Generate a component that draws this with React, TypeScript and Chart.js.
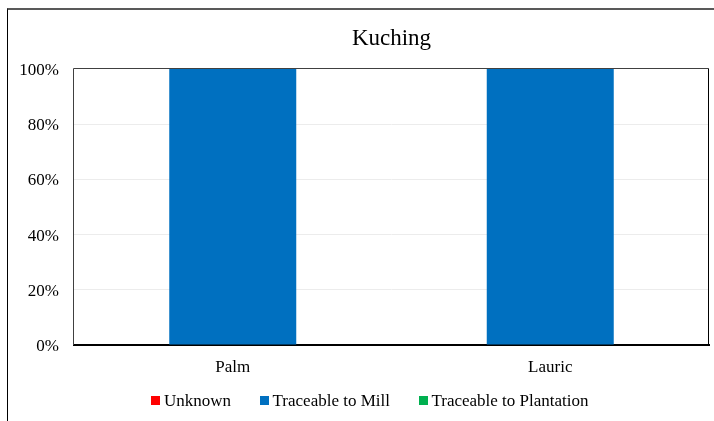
import React, { useEffect, useRef } from "react";
import { Chart, registerables } from "chart.js";

Chart.register(...registerables);

const TITLE = "Kuching";
const categories = ["Palm", "Lauric"];
const seriesNames = ["Unknown", "Traceable to Mill", "Traceable to Plantation"];
const seriesColors = ["#FF0000", "#0070C0", "#00B050"];
const unknownValues = [0, 0];
const millValues = [100, 100];
const plantationValues = [0, 0];
const yTicks = [0, 20, 40, 60, 80, 100];

const FONT = "'Liberation Serif', 'Times New Roman', serif";

const frameTitleLegend = {
  id: "frameTitleLegend",
  afterDraw(chart: any) {
    const { ctx, chartArea } = chart;
    const { left, right, top, bottom } = chartArea;
    ctx.save();
    // plot frame
    ctx.strokeStyle = "#404040";
    ctx.lineWidth = 1;
    ctx.beginPath();
    ctx.moveTo(left - 0.5, bottom);
    ctx.lineTo(left - 0.5, top - 0.5);
    ctx.lineTo(right - 0.5, top - 0.5);
    ctx.stroke();
    ctx.strokeStyle = "#000000";
    ctx.beginPath();
    ctx.moveTo(right - 0.5, top - 0.5);
    ctx.lineTo(right - 0.5, bottom);
    ctx.stroke();
    // title
    ctx.fillStyle = "#000000";
    ctx.font = `23px ${FONT}`;
    ctx.textAlign = "center";
    ctx.textBaseline = "alphabetic";
    ctx.fillText(TITLE, (left + right) / 2, 44.5);
    // legend
    const box = 9;
    const boxGap = 3.5;
    const itemGap = 29;
    ctx.font = `17px ${FONT}`;
    const items = chart.data.datasets.map((d: any) => ({
      text: d.label,
      color: d.backgroundColor,
      w: ctx.measureText(d.label).width,
    }));
    const total =
      items.reduce((s: number, it: any) => s + box + boxGap + it.w, 0) + itemGap * (items.length - 1);
    const cx = 370;
    const cy = 400.5;
    let x = cx - total / 2;
    ctx.textAlign = "left";
    ctx.textBaseline = "middle";
    for (const it of items) {
      ctx.fillStyle = it.color;
      ctx.fillRect(Math.round(x), Math.round(cy - box / 2), box, box);
      ctx.fillStyle = "#000000";
      ctx.fillText(it.text, x + box + boxGap, cy + 1);
      x += box + boxGap + it.w + itemGap;
    }
    ctx.restore();
  },
};

export default function App() {
  const ref = useRef<HTMLCanvasElement>(null);
  useEffect(() => {
    if (!ref.current) return;
    const values = [unknownValues, millValues, plantationValues];
    const chart = new Chart(ref.current, {
      type: "bar",
      data: {
        labels: categories,
        datasets: seriesNames.map((name, i) => ({
          label: name,
          data: values[i],
          backgroundColor: seriesColors[i],
          borderWidth: 0,
          categoryPercentage: 0.4,
          barPercentage: 1,
        })),
      },
      options: {
        animation: false,
        responsive: false,
        maintainAspectRatio: false,
        layout: { padding: { left: 8, right: 5, top: 69, bottom: 0 } },
        plugins: {
          title: { display: false },
          tooltip: { enabled: false },
          legend: { display: false },
        },
        scales: {
          x: {
            stacked: true,
            grid: { display: false, drawTicks: false },
            border: { display: true, color: "#000000", width: 2 },
            ticks: { color: "#000000", font: { family: FONT, size: 17 }, padding: 12 },
            afterFit: (s: any) => {
              s.height = 76;
            },
          },
          y: {
            stacked: true,
            min: 0,
            max: 100,
            afterBuildTicks: (s: any) => {
              s.ticks = yTicks.map((v) => ({ value: v }));
            },
            grid: {
              color: (c: any) => (c.tick && c.tick.value > 0 && c.tick.value < 100 ? "#ececec" : "rgba(0,0,0,0)"),
              drawTicks: false,
            },
            border: { display: false },
            ticks: {
              color: "#000000",
              font: { family: FONT, size: 17 },
              padding: 15,
              labelOffset: 1.5,
              callback: (v: any) => `${v}%`,
            },
            afterFit: (s: any) => {
              s.width = 66;
            },
          },
        },
      },
      plugins: [frameTitleLegend],
    });
    return () => chart.destroy();
  }, []);
  return (
    <div style={{ position: "fixed", left: 0, top: 0, width: 714, height: 421, overflow: "hidden", background: "#fff" }}>
      <canvas ref={ref} width={714} height={421} style={{ position: "absolute", left: 0, top: 0, width: 714, height: 421 }} />
      <div
        style={{
          position: "absolute",
          left: 7,
          top: 8,
          width: 800,
          height: 500,
          borderTop: "2px solid #595959",
          borderLeft: "1px solid #000000",
          pointerEvents: "none",
        }}
      />
    </div>
  );
}
